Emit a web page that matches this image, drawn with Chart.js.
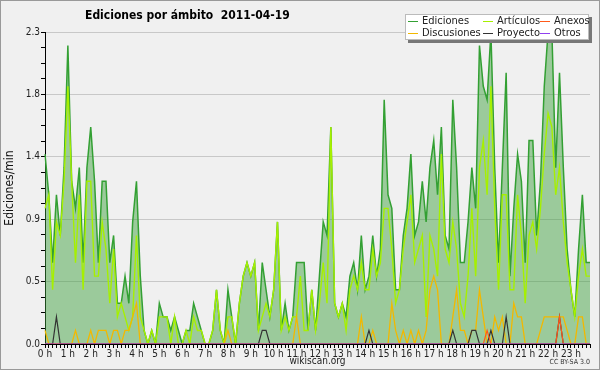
<!DOCTYPE html>
<html>
<head>
<meta charset="utf-8">
<script src="https://cdn.jsdelivr.net/npm/chart.js@4.4.0/dist/chart.umd.min.js"></script>
<style>
  html, body { margin: 0; padding: 0; background: #f0f0f0; }
  canvas { display: block; }
</style>
</head>
<body>
<canvas id="chart" width="600" height="370"></canvas>
<script>
// ediciones por minuto, tramos de 10 min (6 por hora)
const chartTitle = 'Ediciones por ámbito  2011-04-19';
const hourLabels = ['0 h', '1 h', '2 h', '3 h', '4 h', '5 h', '6 h', '7 h', '8 h', '9 h', '10 h', '11 h',
  '12 h', '13 h', '14 h', '15 h', '16 h', '17 h', '18 h', '19 h', '20 h', '21 h', '22 h', '23 h'];
const yMajor = [0, 0.46, 0.92, 1.38, 1.84, 2.3];

const ediciones = [
  1.4, 1.1, 0.6, 1.1, 0.8, 1.3,  2.2, 1.2, 1.0, 1.3, 0.6, 1.3,  1.6, 1.2, 0.6, 1.2, 1.2, 0.6,  0.8, 0.3, 0.3, 0.5, 0.3, 0.9,
  1.2, 0.5, 0.1, 0, 0.1, 0,      0.3, 0.2, 0.2, 0.1, 0.2, 0.1,  0, 0.1, 0.1, 0.3, 0.2, 0.1,    0, 0, 0.1, 0.4, 0.1, 0,
  0.4, 0.2, 0, 0.3, 0.5, 0.6,    0.5, 0.6, 0.1, 0.6, 0.4, 0.2,  0.4, 0.9, 0.1, 0.3, 0.1, 0.2,  0.6, 0.6, 0.6, 0.1, 0.4, 0.1,
  0.5, 0.9, 0.8, 1.6, 0.3, 0.2,  0.3, 0.2, 0.5, 0.6, 0.4, 0.8,  0.4, 0.5, 0.8, 0.5, 0.7, 1.8,  1.1, 1.0, 0.4, 0.4, 0.8, 1.0,
  1.4, 0.8, 0.9, 1.2, 0.9, 1.3,  1.5, 1.1, 1.6, 0.8, 0.7, 1.8,  1.3, 0.6, 0.6, 0.9, 1.3, 1.0,  2.2, 1.9, 1.8, 2.3, 1.3, 0.6,
  1.3, 2.0, 0.5, 1.0, 1.4, 1.2,  0.6, 1.5, 1.5, 0.8, 1.2, 1.9,  2.3, 2.3, 1.3, 2.0, 1.3, 0.7,  0.4, 0.2, 0.7, 1.1, 0.6, 0.6
];
const articulos = [
  1.0, 1.1, 0.4, 0.9, 0.8, 1.2,  1.9, 1.2, 0.6, 1.1, 0.4, 1.2,  1.2, 0.5, 0.5, 0.9, 0.7, 0.3,  0.7, 0.2, 0.3, 0.2, 0.1, 0.2,
  0.8, 0.2, 0.1, 0, 0.1, 0,      0.2, 0.2, 0.2, 0, 0.2, 0,      0, 0.1, 0, 0.2, 0.1, 0.1,      0, 0, 0.1, 0.4, 0.1, 0,
  0.2, 0.2, 0, 0.3, 0.5, 0.6,    0.5, 0.6, 0.1, 0.2, 0.3, 0.2,  0.4, 0.9, 0.1, 0.2, 0.1, 0.2,  0.2, 0.5, 0.1, 0.1, 0.4, 0.1,
  0.3, 0.6, 0.3, 1.6, 0.3, 0.2,  0.3, 0.1, 0.4, 0.5, 0.4, 0.6,  0.4, 0.4, 0.7, 0.5, 0.6, 1.0,  1.0, 0.7, 0.3, 0.4, 0.7, 0.9,
  1.1, 0.6, 0.7, 0.8, 0.2, 0.8,  0.7, 0.5, 1.4, 0.7, 0.6, 0.9,  0.7, 0.3, 0.2, 0.5, 1.0, 0.5,  1.3, 1.5, 1.1, 1.9, 1.0, 0.4,
  1.1, 1.1, 0.4, 0.4, 1.1, 0.8,  0.3, 0.8, 0.9, 0.7, 1.0, 1.4,  1.7, 1.6, 1.1, 1.3, 0.9, 0.6,  0.4, 0.2, 0.5, 0.7, 0.5, 0.5
];
const anexos = [
  0, 0, 0, 0, 0, 0,  0, 0, 0, 0, 0, 0,  0, 0, 0, 0, 0, 0,  0, 0, 0, 0, 0, 0,
  0, 0, 0, 0, 0, 0,  0, 0, 0, 0, 0, 0,  0, 0, 0, 0, 0, 0,  0, 0, 0, 0, 0, 0,
  0, 0, 0, 0, 0, 0,  0, 0, 0, 0, 0, 0,  0, 0, 0, 0, 0, 0,  0, 0, 0, 0, 0, 0,
  0, 0, 0, 0, 0, 0,  0, 0, 0, 0, 0, 0,  0, 0, 0, 0, 0, 0,  0, 0, 0, 0, 0, 0,
  0, 0, 0, 0, 0, 0,  0, 0, 0, 0, 0, 0,  0, 0, 0, 0, 0, 0,  0, 0, 0.1, 0, 0, 0,
  0, 0, 0, 0, 0, 0,  0, 0, 0, 0, 0, 0,  0, 0, 0, 0.2, 0, 0,  0, 0, 0, 0, 0, 0
];
const discusiones = [
  0.1, 0, 0, 0, 0, 0,  0, 0, 0.1, 0, 0, 0,  0.1, 0, 0.1, 0.1, 0.1, 0,  0.1, 0.1, 0, 0.1, 0.1, 0.2,
  0.3, 0, 0, 0, 0, 0,  0, 0, 0, 0, 0, 0,    0, 0, 0, 0, 0, 0,          0, 0, 0, 0, 0, 0,
  0.1, 0, 0, 0, 0, 0,  0, 0, 0, 0, 0, 0,    0, 0, 0, 0, 0, 0,          0.2, 0, 0, 0, 0, 0,
  0, 0, 0, 0, 0, 0,    0, 0, 0, 0, 0, 0.2,  0, 0, 0.1, 0, 0, 0,        0, 0.3, 0.1, 0, 0.1, 0,
  0.1, 0, 0.1, 0, 0.1, 0.4,  0.5, 0.4, 0, 0, 0, 0.2,  0.4, 0.1, 0.1, 0, 0.1, 0.1,  0.4, 0.2, 0, 0, 0.2, 0.1,
  0.2, 0, 0, 0.3, 0.2, 0.2,  0, 0, 0, 0, 0.1, 0.2,    0.2, 0.2, 0.2, 0.2, 0.2, 0.1,  0, 0, 0.2, 0.2, 0, 0
];
const proyecto = [
  0, 0, 0, 0.2, 0, 0,  0, 0, 0, 0, 0, 0,  0, 0, 0, 0, 0, 0,  0, 0, 0, 0, 0, 0,
  0, 0, 0, 0, 0, 0,    0, 0, 0, 0, 0, 0,  0, 0, 0, 0, 0, 0,  0, 0, 0, 0, 0, 0,
  0, 0, 0, 0, 0, 0,    0, 0, 0, 0.1, 0.1, 0,  0, 0, 0, 0, 0, 0,  0, 0, 0, 0, 0, 0,
  0, 0, 0, 0, 0, 0,    0, 0, 0, 0, 0, 0,  0, 0.1, 0, 0, 0, 0,  0, 0, 0, 0, 0, 0,
  0, 0, 0, 0, 0, 0,    0, 0, 0, 0, 0, 0.1,  0, 0, 0, 0, 0.1, 0.1,  0, 0, 0, 0.1, 0, 0,
  0, 0.2, 0, 0, 0, 0,  0, 0, 0, 0, 0, 0,  0, 0, 0, 0.2, 0, 0,  0, 0, 0, 0, 0, 0
];
const otros = [
  0, 0, 0, 0, 0, 0,  0, 0, 0, 0, 0, 0,  0, 0, 0, 0, 0, 0,  0, 0, 0, 0, 0, 0,
  0, 0, 0, 0, 0, 0,  0, 0, 0, 0, 0, 0,  0, 0, 0, 0, 0, 0,  0, 0, 0, 0, 0, 0,
  0, 0, 0, 0, 0, 0,  0, 0, 0, 0, 0, 0,  0, 0, 0, 0, 0, 0,  0, 0, 0, 0, 0, 0,
  0, 0, 0, 0, 0, 0,  0, 0, 0, 0, 0, 0,  0, 0, 0, 0, 0, 0,  0, 0, 0, 0, 0, 0,
  0, 0, 0, 0, 0, 0,  0, 0, 0, 0, 0, 0,  0, 0, 0, 0, 0, 0,  0, 0, 0, 0, 0, 0,
  0, 0, 0, 0, 0, 0,  0, 0, 0, 0, 0, 0,  0, 0, 0, 0, 0, 0,  0, 0, 0, 0, 0, 0
];

// categorias: una por tramo de 10 min
const times = [];
for (let i = 0; i < ediciones.length; i++) {
  const h = Math.floor(i / 6), m = (i % 6) * 10;
  times.push(String(h).padStart(2, '0') + ':' + String(m).padStart(2, '0'));
}

const FONT = "'DejaVu Sans Condensed', 'DejaVu Sans', sans-serif";
Chart.defaults.font.family = FONT;
Chart.defaults.font.size = 10;
Chart.defaults.color = '#222';

const decor = {
  id: 'decor',
  beforeDraw(chart) {
    const ctx = chart.ctx;
    ctx.save();
    ctx.fillStyle = '#f0f0f0';
    ctx.fillRect(0, 0, chart.width, chart.height);
    ctx.restore();
  },
  afterDraw(chart) {
    const ctx = chart.ctx;
    ctx.save();
    // titulo
    ctx.fillStyle = '#000';
    ctx.font = 'bold 12px ' + FONT;
    ctx.textBaseline = 'middle';
    ctx.fillText(chartTitle, 85, 16);

    // leyenda
    const bx = 405, by = 14, bw = 184, bh = 26;
    ctx.fillStyle = '#777';
    ctx.fillRect(bx + 3, by + 3, bw, bh);
    ctx.fillStyle = '#fff';
    ctx.fillRect(bx, by, bw, bh);
    ctx.strokeStyle = '#bbb';
    ctx.lineWidth = 1;
    ctx.strokeRect(bx + 0.5, by + 0.5, bw - 1, bh - 1);
    const colX = [408, 483, 540];
    const rowY = [21, 33];
    ctx.font = '11px ' + FONT;
    chart.data.datasets.forEach((ds, i) => {
      const x = colX[i % 3], y = rowY[Math.floor(i / 3)];
      ctx.strokeStyle = ds.borderColor;
      ctx.beginPath();
      ctx.moveTo(x, y + 0.5);
      ctx.lineTo(x + 10, y + 0.5);
      ctx.stroke();
      ctx.fillStyle = '#222';
      ctx.fillText(ds.label, x + 14, y);
    });

    // licencia
    ctx.font = '7px ' + FONT;
    ctx.textAlign = 'right';
    ctx.fillStyle = '#333';
    ctx.fillText('CC BY-SA 3.0', 590, 362);

    // borde
    ctx.strokeStyle = '#999';
    ctx.strokeRect(0.5, 0.5, chart.width - 1, chart.height - 1);
    ctx.restore();
  }
};

const ctx = document.getElementById('chart').getContext('2d');
const myChart = new Chart(ctx, {
  type: 'line',
  data: {
    labels: times,
    datasets: [
      { label: 'Ediciones', data: ediciones, borderColor: '#33a033', backgroundColor: 'rgba(60,160,60,0.47)',
        fill: 'origin', borderWidth: 1.5, order: 6 },
      { label: 'Artículos', data: articulos, borderColor: '#a6f000', borderWidth: 1.4, order: 5 },
      { label: 'Anexos', data: anexos, borderColor: '#ff5a1a', borderWidth: 1.2, order: 2 },
      { label: 'Discusiones', data: discusiones, borderColor: '#f2b800', borderWidth: 1.3, order: 4 },
      { label: 'Proyecto', data: proyecto, borderColor: '#333333', borderWidth: 1.2, order: 3 },
      { label: 'Otros', data: otros, borderColor: '#9040f0', borderWidth: 1, order: 1 }
    ]
  },
  options: {
    responsive: false,
    animation: false,
    devicePixelRatio: 1,
    events: [],
    layout: { padding: { top: 32, right: 10, left: 0, bottom: 0 } },
    elements: { point: { radius: 0 }, line: { tension: 0 } },
    plugins: { legend: { display: false }, title: { display: false }, tooltip: { enabled: false } },
    scales: {
      x: {
        type: 'category',
        offset: false,
        z: 1,
        border: { color: '#000' },
        grid: { drawOnChartArea: false, drawTicks: true, tickLength: 4, tickColor: '#000' },
        ticks: {
          autoSkip: false, maxRotation: 0, minRotation: 0, padding: 0, color: '#222',
          callback: (v, i) => (i % 6 === 0 ? hourLabels[i / 6] : '')
        },
        title: { display: true, text: 'wikiscan.org', color: '#222', font: { size: 10 }, padding: { top: 0, bottom: 3 } },
        afterFit: s => { s.height = 26; }
      },
      y: {
        min: 0,
        max: 2.3,
        border: { color: '#000' },
        grid: {
          color: c => (c.tick && c.tick.big ? '#c8c8c8' : 'rgba(0,0,0,0)'),
          tickColor: '#000',
          tickLength: 4
        },
        ticks: {
          autoSkip: false, padding: 1, color: '#222',
          callback: (v, i, ticks) => (ticks[i].big ? v.toFixed(1) : '')
        },
        afterBuildTicks: s => {
          const out = [];
          for (let k = 0; k < yMajor.length - 1; k++) {
            const a = yMajor[k], b = yMajor[k + 1];
            for (let m = 0; m < 4; m++) out.push({ value: a + (b - a) * m / 4, big: m === 0 });
          }
          out.push({ value: yMajor[yMajor.length - 1], big: true });
          s.ticks = out;
        },
        title: { display: true, text: 'Ediciones/min', color: '#111', font: { size: 12 }, padding: { top: 3, bottom: 0 } },
        afterFit: s => { s.width = 45; }
      }
    }
  },
  plugins: [decor]
});
</script>
</body>
</html>
